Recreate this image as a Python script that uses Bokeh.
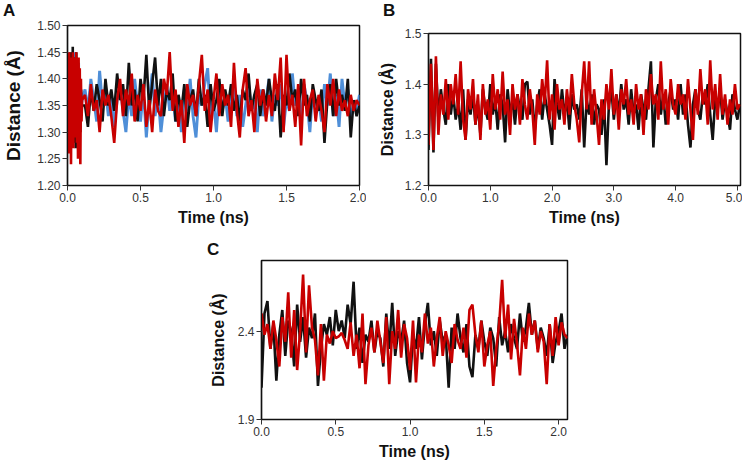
import numpy as np
from bokeh.plotting import figure
from bokeh.models import FixedTicker, PrintfTickFormatter, Div
from bokeh.embed import file_html
from bokeh.resources import INLINE

FONT = "Liberation Sans"

# ---------------- Panel A data (0-2 ns) ----------------
# dense first 0.1 ns (step 0.004 ns), then step 0.02 ns
a_black_start = [1.28, 1.42, 1.30, 1.44, 1.27, 1.45, 1.31, 1.43, 1.29, 1.46, 1.28, 1.44, 1.32,
                 1.42, 1.27, 1.45, 1.30, 1.43, 1.29, 1.41, 1.33, 1.40, 1.30, 1.38, 1.34, 1.35]
a_blue_start = [1.32, 1.43, 1.29, 1.45, 1.30, 1.42, 1.28, 1.44, 1.31, 1.45, 1.29, 1.43, 1.30,
                1.45, 1.28, 1.44, 1.32, 1.41, 1.27, 1.43, 1.31, 1.40, 1.33, 1.38, 1.35, 1.36]
a_red_start = [1.30, 1.44, 1.26, 1.45, 1.28, 1.43, 1.24, 1.44, 1.30, 1.45, 1.27, 1.42, 1.29,
               1.44, 1.31, 1.45, 1.28, 1.43, 1.25, 1.44, 1.30, 1.42, 1.24, 1.40, 1.32, 1.36]

a_red = [1.37, 1.33, 1.39, 1.34, 1.36, 1.30, 1.38, 1.35, 1.37, 1.33,
         1.28, 1.36, 1.40, 1.33, 1.38, 1.35, 1.41, 1.32, 1.37, 1.34,
         1.39, 1.31, 1.36, 1.30, 1.38, 1.34, 1.33, 1.40, 1.37, 1.45,
         1.34, 1.38, 1.31, 1.36, 1.28, 1.39, 1.35, 1.37, 1.33, 1.39,
         1.445, 1.34, 1.38, 1.30, 1.36, 1.41, 1.33, 1.39, 1.35, 1.37,
         1.31, 1.43, 1.34, 1.29, 1.38, 1.42, 1.33, 1.36, 1.30, 1.40,
         1.35, 1.38, 1.32, 1.37, 1.33, 1.41, 1.36, 1.44, 1.30, 1.445,
         1.34, 1.37, 1.31, 1.39, 1.275, 1.40, 1.33, 1.36, 1.38, 1.32,
         1.37, 1.34, 1.30, 1.39, 1.35, 1.40, 1.33, 1.38, 1.34, 1.36,
         1.33, 1.37, 1.34, 1.36, 1.35]
a_black = [1.35, 1.31, 1.38, 1.34, 1.39, 1.36, 1.32, 1.40, 1.35, 1.38,
           1.34, 1.41, 1.36, 1.39, 1.33, 1.43, 1.35, 1.38, 1.32, 1.40,
           1.36, 1.445, 1.34, 1.39, 1.44, 1.35, 1.40, 1.33, 1.38, 1.36,
           1.41, 1.32, 1.37, 1.34, 1.39, 1.31, 1.36, 1.38, 1.33, 1.40,
           1.35, 1.37, 1.31, 1.39, 1.34, 1.36, 1.40, 1.33, 1.38, 1.35,
           1.39, 1.34, 1.37, 1.32, 1.38, 1.36, 1.41, 1.34, 1.37, 1.39,
           1.33, 1.38, 1.35, 1.40, 1.36, 1.34, 1.39, 1.29, 1.37, 1.35,
           1.41, 1.36, 1.38, 1.33, 1.40, 1.35, 1.37, 1.32, 1.39, 1.36,
           1.34, 1.38, 1.28, 1.36, 1.39, 1.33, 1.40, 1.35, 1.37, 1.34,
           1.40, 1.29, 1.36, 1.33, 1.35]
a_blue = [1.38, 1.34, 1.40, 1.36, 1.32, 1.415, 1.35, 1.38, 1.33, 1.37,
          1.31, 1.36, 1.39, 1.34, 1.30, 1.37, 1.33, 1.40, 1.35, 1.32,
          1.38, 1.29, 1.36, 1.41, 1.33, 1.37, 1.30, 1.35, 1.39, 1.34,
          1.37, 1.32, 1.36, 1.30, 1.38, 1.34, 1.40, 1.33, 1.29, 1.37,
          1.35, 1.39, 1.42, 1.33, 1.36, 1.30, 1.38, 1.34, 1.37, 1.32,
          1.36, 1.40, 1.33, 1.37, 1.31, 1.35, 1.39, 1.34, 1.36, 1.30,
          1.38, 1.33, 1.36, 1.40, 1.32, 1.37, 1.35, 1.39, 1.31, 1.36,
          1.34, 1.41, 1.35, 1.37, 1.32, 1.39, 1.36, 1.30, 1.38, 1.34,
          1.36, 1.32, 1.39, 1.35, 1.41, 1.33, 1.37, 1.31, 1.40, 1.35,
          1.38, 1.32, 1.36, 1.34, 1.37]

# ---------------- Panel B data (0-5 ns, step 0.04 ns) ----------------
b_red = [1.28, 1.44, 1.27, 1.455, 1.30, 1.38, 1.34, 1.41, 1.33, 1.40,
         1.36, 1.42, 1.34, 1.445, 1.33, 1.29, 1.39, 1.35, 1.41, 1.32,
         1.38, 1.29, 1.40, 1.34, 1.37, 1.31, 1.42, 1.35, 1.39, 1.33,
         1.425, 1.34, 1.37, 1.30, 1.40, 1.35, 1.38, 1.32, 1.41, 1.36,
         1.33, 1.39, 1.35, 1.28, 1.38, 1.34, 1.41, 1.36, 1.447, 1.33,
         1.38, 1.31, 1.40, 1.35, 1.37, 1.32, 1.39, 1.34, 1.42, 1.36,
         1.33, 1.285, 1.38, 1.445, 1.35, 1.445, 1.32, 1.39, 1.34, 1.28,
         1.37, 1.33, 1.40, 1.35, 1.43, 1.34, 1.38, 1.31, 1.39, 1.36,
         1.41, 1.34, 1.37, 1.32, 1.40, 1.35, 1.38, 1.30, 1.39, 1.35,
         1.42, 1.36, 1.38, 1.33, 1.445, 1.35, 1.39, 1.32, 1.41, 1.36,
         1.34, 1.40, 1.36, 1.38, 1.33, 1.41, 1.35, 1.29, 1.39, 1.34,
         1.43, 1.36, 1.39, 1.32, 1.447, 1.35, 1.40, 1.33, 1.42, 1.34,
         1.38, 1.32, 1.37, 1.34, 1.40, 1.35, 1.36]
b_black = [1.27, 1.45, 1.265, 1.44, 1.33, 1.39, 1.35, 1.32, 1.40, 1.34,
           1.38, 1.33, 1.36, 1.31, 1.39, 1.29, 1.37, 1.34, 1.38, 1.32,
           1.36, 1.30, 1.39, 1.35, 1.33, 1.40, 1.34, 1.37, 1.31, 1.38,
           1.36, 1.285, 1.39, 1.34, 1.37, 1.32, 1.38, 1.35, 1.33, 1.40,
           1.405, 1.34, 1.37, 1.31, 1.36, 1.39, 1.33, 1.38, 1.35, 1.32,
           1.28, 1.41, 1.36, 1.33, 1.39, 1.34, 1.37, 1.31, 1.38, 1.35,
           1.36, 1.33, 1.39, 1.275, 1.37, 1.34, 1.38, 1.32, 1.36, 1.35,
           1.30, 1.37, 1.24, 1.36, 1.39, 1.33, 1.38, 1.34, 1.40, 1.35,
           1.37, 1.32, 1.39, 1.34, 1.36, 1.31, 1.38, 1.35, 1.33, 1.39,
           1.445, 1.275, 1.37, 1.40, 1.34, 1.38, 1.32, 1.36, 1.39, 1.35,
           1.37, 1.33, 1.40, 1.34, 1.38, 1.32, 1.275, 1.36, 1.39, 1.35,
           1.33, 1.38, 1.36, 1.40, 1.34, 1.29, 1.37, 1.35, 1.39, 1.33,
           1.37, 1.34, 1.31, 1.38, 1.35, 1.33, 1.36]

# ---------------- Panel C data (0-2.06 ns, step 0.02 ns) ----------------
c_red = [2.50, 2.38, 2.44, 2.30, 2.46, 2.35, 2.20, 2.48, 2.34, 2.62,
         2.25, 2.52, 2.18, 2.40, 2.72, 2.28, 2.66, 2.42, 2.35, 2.15,
         2.44, 2.12, 2.38, 2.33, 2.40, 2.36, 2.37, 2.39, 2.35, 2.30,
         2.45, 2.26, 2.38, 2.19, 2.50, 2.10, 2.32, 2.42, 2.28, 2.46,
         2.34, 2.22, 2.48, 2.10, 2.40, 2.30, 2.52, 2.25, 2.44, 2.36,
         2.18, 2.46, 2.11, 2.38, 2.28, 2.50, 2.33, 2.42, 2.20, 2.36,
         2.48, 2.26, 2.40, 2.32, 2.22, 2.44, 2.35, 2.30, 2.42, 2.25,
         2.52, 2.55, 2.38, 2.28, 2.46, 2.20, 2.32, 2.40, 2.09, 2.30,
         2.44, 2.69, 2.36, 2.55, 2.24, 2.47, 2.33, 2.15, 2.42, 2.30,
         2.50, 2.38, 2.46, 2.28, 2.40, 2.34, 2.10, 2.44, 2.26, 2.48,
         2.32, 2.45, 2.38, 2.36]
c_black = [2.08, 2.50, 2.57, 2.30, 2.44, 2.12, 2.38, 2.52, 2.26, 2.46,
           2.40, 2.20, 2.55, 2.34, 2.48, 2.25, 2.42, 2.36, 2.50, 2.09,
           2.30, 2.44, 2.38, 2.48, 2.32, 2.52, 2.40, 2.46, 2.36, 2.55,
           2.44, 2.68, 2.30, 2.42, 2.22, 2.38, 2.34, 2.46, 2.28, 2.40,
           2.36, 2.20, 2.50, 2.30, 2.56, 2.26, 2.40, 2.34, 2.46, 2.22,
           2.11, 2.38, 2.30, 2.48, 2.24, 2.44, 2.56, 2.32, 2.40, 2.26,
           2.46, 2.34, 2.38, 2.08, 2.42, 2.30, 2.50, 2.36, 2.28, 2.44,
           2.20, 2.14, 2.38, 2.30, 2.46, 2.34, 2.26, 2.42, 2.36, 2.20,
           2.48, 2.32, 2.40, 2.28, 2.44, 2.36, 2.30, 2.50, 2.34, 2.42,
           2.56, 2.38, 2.46, 2.30, 2.42, 2.36, 2.26, 2.44, 2.22, 2.34,
           2.40, 2.50, 2.30, 2.38]

# tick definitions
a_xticks = [0.0, 0.5, 1.0, 1.5, 2.0]
a_yticks = [1.20, 1.25, 1.30, 1.35, 1.40, 1.45, 1.50]
b_xticks = [0.0, 1.0, 2.0, 3.0, 4.0, 5.0]
b_yticks = [1.2, 1.3, 1.4, 1.5]
c_xticks = [0.0, 0.5, 1.0, 1.5, 2.0]
c_yticks = [1.9, 2.4]

BLACK = "#111111"
RED = "#c80000"
BLUE = "#4f8fd8"
LW = 2.6


def times_a(start, rest):
    return np.concatenate([np.arange(len(start)) * 0.004, 0.12 + np.arange(len(rest)) * 0.02])


def abs_style(left, top):
    return {"position": "absolute", "left": f"{left}px", "top": f"{top}px"}


def make_fig(width, height, xr, yr, mb, xticks, yticks, xfmt, yfmt,
             ylab_size, ylab_standoff, left, top):
    p = figure(width=width, height=height, x_range=xr, y_range=yr,
               output_backend="svg", toolbar_location=None,
               min_border_left=mb[0], min_border_right=mb[1],
               min_border_top=mb[2], min_border_bottom=mb[3],
               styles=abs_style(left, top))
    p.grid.visible = False
    p.outline_line_color = "#111111"
    p.outline_line_width = 1.5
    p.outline_line_alpha = 1.0
    p.background_fill_color = "white"
    p.border_fill_color = "white"
    p.xaxis.ticker = FixedTicker(ticks=xticks)
    p.yaxis.ticker = FixedTicker(ticks=yticks)
    p.xaxis.formatter = PrintfTickFormatter(format=xfmt)
    p.yaxis.formatter = PrintfTickFormatter(format=yfmt)
    p.xaxis.axis_label = "Time (ns)"
    p.yaxis.axis_label = "Distance (Å)"
    for ax in (p.xaxis[0], p.yaxis[0]):
        ax.axis_line_color = "#111111"
        ax.axis_line_width = 1.2
        ax.major_tick_in = 0
        ax.major_tick_out = 5
        ax.major_tick_line_color = "#333333"
        ax.minor_tick_line_color = None
        ax.major_label_text_font = FONT
        ax.major_label_text_font_size = "12px"
        ax.major_label_text_color = "#333333"
        ax.major_label_standoff = 2
        ax.axis_label_text_font = FONT
        ax.axis_label_text_font_style = "bold"
        ax.axis_label_text_color = "#111111"
    p.xaxis.axis_label_text_font_size = "16px"
    p.xaxis.axis_label_standoff = 4
    p.yaxis.axis_label_text_font_size = ylab_size
    p.yaxis.axis_label_standoff = ylab_standoff
    return p


def panel_letter(text, left, top):
    st = abs_style(left, top)
    st.update({"font-family": FONT, "font-weight": "bold", "font-size": "17px",
               "line-height": "17px", "color": "#111111"})
    return Div(text=text, width=20, height=18, margin=0, styles=st)


# Panel A
pA = make_fig(366, 230, (0, 2.0), (1.2, 1.5), (66, 7, 25, 45), a_xticks, a_yticks,
              "%.1f", "%.2f", "19px", 10, 0, 0)
pA.line(times_a(a_blue_start, a_blue), a_blue_start + a_blue, color=BLUE, line_width=LW + 0.3)
pA.line(times_a(a_black_start, a_black), a_black_start + a_black, color=BLACK, line_width=LW)
pA.line(times_a(a_red_start, a_red), a_red_start + a_red, color=RED, line_width=LW)

# Panel B
pB = make_fig(376, 230, (0, 5.05), (1.2, 1.5), (62, 2, 33, 45), b_xticks, b_yticks,
              "%.1f", "%.1f", "16px", 6, 366, 0)
pB.line(np.arange(len(b_black)) * 0.04, b_black, color=BLACK, line_width=LW)
pB.line(np.arange(len(b_red)) * 0.04, b_red, color=RED, line_width=LW)

# Panel C
pC = make_fig(400, 234, (0, 2.06), (1.9, 2.8), (81, 13, 30, 45), c_xticks, c_yticks,
              "%.1f", "%.1f", "16px", 8, 180, 230)
pC.line(np.arange(len(c_black)) * 0.02, c_black, color=BLACK, line_width=LW)
pC.line(np.arange(len(c_red)) * 0.02, c_red, color=RED, line_width=LW)

dA = panel_letter("A", 3, 2)
dB = panel_letter("B", 383, 2)
dC = panel_letter("C", 207, 241)

open("out.html", "w").write(file_html([pA, pB, pC, dA, dB, dC], INLINE))
